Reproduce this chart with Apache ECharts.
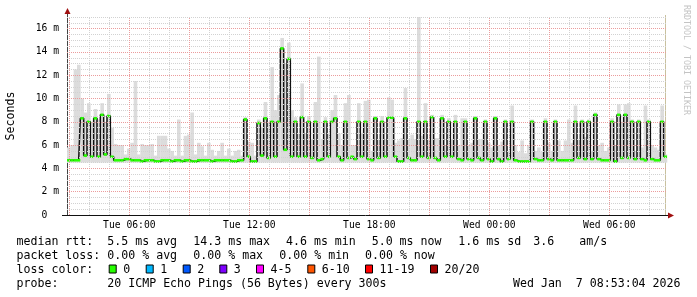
<!DOCTYPE html>
<html><head><meta charset="utf-8">
<script src="https://cdn.jsdelivr.net/npm/echarts@6/dist/echarts.min.js"></script>
<style>html,body{margin:0;padding:0;background:#fff}#c{width:697px;height:297px}</style>
</head><body><div id="c"></div>
<script>
// ---- data (10-minute samples, ms) ----
const medianRtt = [
  4.7,4.7,4.7,4.7,8.3,5.1,8.0,5.0,8.3,5.0,
  8.6,5.2,8.5,5.0,4.7,4.7,4.7,4.8,4.8,4.7,
  4.7,4.7,4.6,4.7,4.7,4.7,4.6,4.6,4.7,4.7,
  4.7,4.6,4.7,4.7,4.6,4.7,4.7,4.6,4.6,4.7,
  4.7,4.7,4.7,4.6,4.7,4.7,4.7,4.7,4.7,4.6,
  4.6,4.7,4.7,8.2,5.0,4.6,4.6,7.9,5.1,8.3,
  4.9,8.0,5.0,8.0,14.3,5.6,13.4,5.0,8.0,5.0,
  8.4,5.0,8.0,4.9,8.0,4.7,4.8,8.0,5.0,8.0,
  8.3,5.0,4.7,8.0,4.9,5.0,4.8,8.0,5.0,8.0,
  4.8,4.7,8.3,4.9,8.0,5.0,8.35,8.35,5.0,4.6,
  4.6,8.3,4.9,4.7,4.7,8.0,5.0,8.0,4.9,8.4,
  4.9,4.7,8.3,5.0,8.0,5.0,8.0,4.8,4.7,8.0,
  4.8,4.7,8.3,4.9,4.7,8.0,4.8,4.6,8.3,4.8,
  4.6,8.0,4.8,8.0,4.7,4.6,4.6,4.6,4.6,8.0,
  4.8,4.7,4.7,8.0,4.8,4.7,8.0,4.7,4.7,4.7,
  4.7,4.7,8.0,4.9,8.0,4.8,8.0,4.8,8.6,4.8,
  4.7,4.7,4.7,8.0,4.6,8.6,4.9,8.6,4.9,8.0,
  4.8,8.0,4.8,4.7,8.0,4.8,4.7,4.7,8.0,5.0
];
const smokeMax = [
  5.8,6.0,12.5,12.9,10.0,8.8,9.6,8.0,9.1,8.2,
  9.6,8.0,10.4,7.5,6.1,6.0,6.0,5.2,5.7,6.2,
  11.5,5.2,6.1,6.0,6.0,6.1,5.1,6.8,6.8,6.8,
  5.7,5.5,5.1,8.2,5.1,6.8,6.9,8.8,5.2,6.2,
  5.9,5.1,6.2,5.6,5.1,5.5,6.2,5.1,5.7,5.1,
  5.5,5.6,5.1,8.4,6.3,6.2,5.1,8.2,7.5,9.7,
  8.0,12.7,9.0,10.3,15.2,13.0,14.8,9.0,8.4,7.0,
  11.3,7.0,8.5,6.5,9.7,13.6,6.5,8.4,7.0,9.0,
  10.3,7.0,6.0,9.6,10.3,6.0,6.0,9.6,7.0,9.8,
  9.9,5.5,8.5,6.5,8.5,6.5,10.1,9.9,6.2,6.4,
  6.6,10.9,6.5,6.9,6.5,17.0,6.8,9.6,6.5,8.6,
  6.6,6.6,8.6,6.0,8.3,6.5,8.6,6.0,8.3,8.3,
  6.0,6.2,8.5,6.5,6.5,8.2,6.2,5.8,8.5,6.0,
  6.3,8.2,5.5,9.4,6.0,5.4,6.4,5.3,6.0,8.2,
  5.5,5.8,5.4,8.3,6.2,5.5,8.2,6.4,5.5,6.4,
  8.2,6.2,9.4,6.5,8.2,6.7,8.2,5.5,8.8,6.0,
  6.2,5.5,5.8,8.3,6.0,9.5,8.0,9.5,9.6,8.2,
  5.5,8.2,5.8,9.4,8.2,6.0,5.8,5.6,9.4,5.2
];
const smokeFloor = 4.5;
const sampleMinutes = 10;
const firstSampleMinute = 178;   // minutes after Tue 00:00 (graph starts 02:53)
const axisStart = 173, axisEnd = 1973;
const yMax = 17;
const xTickMinutes = [360, 720, 1080, 1440, 1800];
const xTickLabels = ['Tue 06:00', 'Tue 12:00', 'Tue 18:00', 'Wed 00:00', 'Wed 06:00'];
const statsRtt = ['median rtt:', '5.5 ms avg', '14.3 ms max', '4.6 ms min', '5.0 ms now', '1.6 ms sd', '3.6', 'am/s'];
const statsLoss = ['packet loss:', '0.00 % avg', '0.00 % max', '0.00 % min', '0.00 % now'];
const lossLabels = ['0', '1', '2', '3', '4-5', '6-10', '11-19', '20/20'];
const lossColors = ['#26ff00', '#00b8ff', '#0059ff', '#7e00ff', '#ff00ff', '#ff5500', '#ff0000', '#a10000'];
const probeText = ['probe:', '20 ICMP Echo Pings (56 Bytes) every 300s', 'Wed Jan  7 08:53:04 2026'];

// ---- build ----
const FONT = "'DejaVu Sans Mono', monospace";
const pts = medianRtt.map((v, i) => [firstSampleMinute + i * sampleMinutes, v]);
const smokePts = smokeMax.map((v, i) => [firstSampleMinute + i * sampleMinutes, v]);

const MAJ = '#eb9c9c', MIN = '#d2d2d2';
const gridLines = [];
for (let h = 3; h <= 32; h++) {
  const major = h % 3 === 0;
  gridLines.push({ xAxis: h * 60, lineStyle: { color: major ? MAJ : MIN, type: [1, 1], width: 1 } });
}
for (let k = 1; k <= yMax * 2; k++) {
  const v = k / 2;
  const major = v % 2 === 0;
  gridLines.push({ yAxis: v, lineStyle: { color: major ? MAJ : MIN, type: [1, 1], width: 1 } });
}
gridLines.sort((a, b) => (a.lineStyle.color === MAJ) - (b.lineStyle.color === MAJ));

const graphic = [];
function txt(t, x, y, align, size, color) {
  graphic.push({ type: 'text', x: x, y: y, silent: true,
    style: { text: t, fontFamily: FONT, fontSize: size || 11.6, fill: color || '#000',
      textAlign: align || 'left', textVerticalAlign: 'middle' } });
}
const rttX = [16.5, 107.3, 193.3, 286, 371.7, 458.3, 533.3, 579.3];
statsRtt.forEach((t, i) => txt(t, rttX[i], 241.5));
const lossX = [16.5, 107.3, 193.3, 279.3, 365];
statsLoss.forEach((t, i) => txt(t, lossX[i], 255.5));
txt('loss color:', 16.5, 269.5);
const boxX = [108.7, 145.7, 182.7, 219.3, 256, 307.3, 365, 430];
lossLabels.forEach((t, i) => {
  graphic.push({ type: 'rect', silent: true,
    shape: { x: boxX[i] + 0.5, y: 265, width: 7, height: 8 },
    style: { fill: lossColors[i], stroke: '#000', lineWidth: 1 } });
  txt(t, boxX[i] + 14.5, 269.5);
});
txt(probeText[0], 16.5, 283.5);
txt(probeText[1], 107.3, 283.5);
txt(probeText[2], 680.5, 283.5, 'right');
graphic.push({ type: 'text', x: 686.5, y: 5, rotation: -Math.PI / 2, silent: true,
  style: { text: 'RRDTOOL / TOBI OETIKER', fontFamily: FONT, fontSize: 8.3, fill: '#c4c4c4',
    textAlign: 'left', textVerticalAlign: 'middle' } });
graphic.push({ type: 'line', silent: true, shape: { x1: 67.5, y1: 215.5, x2: 67.5, y2: 13 }, style: { stroke: '#444', lineWidth: 1 } });
graphic.push({ type: 'line', silent: true, shape: { x1: 62, y1: 215.5, x2: 669, y2: 215.5 }, style: { stroke: '#111', lineWidth: 1 } });
graphic.push({ type: 'polygon', silent: true, shape: { points: [[67.5, 8], [64.5, 14], [70.5, 14]] }, style: { fill: '#a01010' } });
graphic.push({ type: 'polygon', silent: true, shape: { points: [[674, 215.5], [668, 212.5], [668, 218.5]] }, style: { fill: '#a01010' } });
graphic.push({ type: 'line', silent: true, shape: { x1: 665.5, y1: 15, x2: 665.5, y2: 215 }, style: { stroke: '#c9c19e', lineWidth: 1 } });

const chart = echarts.init(document.getElementById('c'), null, { renderer: 'canvas' });
chart.setOption({
  animation: false,
  backgroundColor: '#ffffff',
  grid: { left: 67, right: 30, top: 17, bottom: 82, containLabel: false, outerBoundsMode: 'none' },
  xAxis: {
    type: 'value', min: axisStart, max: axisEnd,
    axisLine: { show: false },
    axisTick: { show: false },
    splitLine: { show: false },
    axisLabel: {
      customValues: xTickMinutes,
      formatter: v => { const k = xTickMinutes.indexOf(v); return k >= 0 ? xTickLabels[k] : ''; },
      fontFamily: FONT, fontSize: 9.7, color: '#000', margin: 5
    }
  },
  yAxis: {
    type: 'value', min: 0, max: yMax, interval: 2,
    name: 'Seconds', nameLocation: 'middle', nameRotate: 90, nameGap: 50, nameMoveOverlap: false,
    nameTextStyle: { fontFamily: FONT, fontSize: 11.6, color: '#000' },
    axisLine: { show: false },
    axisTick: { show: false },
    splitLine: { show: false },
    axisLabel: {
      fontFamily: FONT, fontSize: 9.7, color: '#000', margin: 8,
      formatter: v => (v % 2 !== 0 ? '' : (v === 0 ? '0  ' : v + ' m'))
    }
  },
  graphic: graphic,
  series: [
    { type: 'line', data: [], silent: true, z: 1,
      markLine: { silent: true, symbol: ['none', 'none'], label: { show: false }, animation: false, data: gridLines } },
    { type: 'custom', z: 2, silent: true, data: smokePts, encode: { x: 0, y: 1 },
      renderItem: (params, api) => {
        const t = api.value(0), hi = api.value(1);
        const a = api.coord([t - sampleMinutes / 2, smokeFloor]);
        const b = api.coord([t + sampleMinutes / 2, hi]);
        return { type: 'rect', shape: { x: a[0], y: b[1], width: b[0] - a[0] + 0.3, height: a[1] - b[1] },
          style: { fill: '#dcdcdc' } };
      } },
    { type: 'line', z: 3, data: pts, step: 'middle', showSymbol: false, silent: true,
      lineStyle: { color: '#111', width: 1.5 } },
    { type: 'custom', z: 4, silent: true, data: pts, encode: { x: 0, y: 1 },
      renderItem: (params, api) => {
        const t = api.value(0), v = api.value(1);
        const a = api.coord([t - sampleMinutes / 2, v]);
        const b = api.coord([t + sampleMinutes / 2, v]);
        return { type: 'rect', shape: { x: a[0], y: a[1] - 1.3, width: b[0] - a[0], height: 2.6 },
          style: { fill: '#26ff00' } };
      } }
  ]
});
</script></body></html>
